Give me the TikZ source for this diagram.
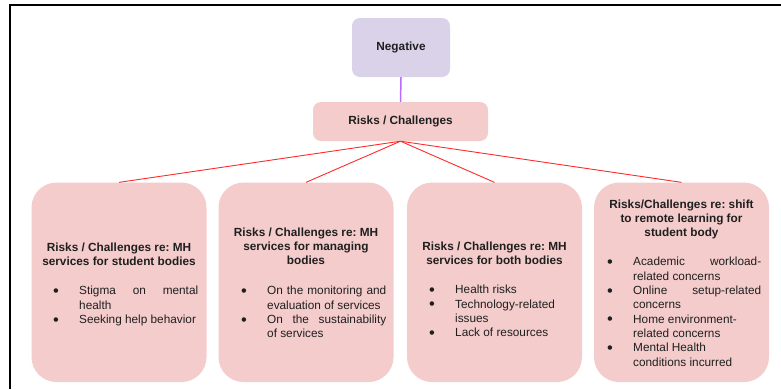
\documentclass[tikz,border=0pt]{standalone}
\usepackage{fontspec}
\setmainfont{Liberation Sans}
\usetikzlibrary{positioning}
\definecolor{lavender}{HTML}{D9D2E9}
\definecolor{blush}{HTML}{F4CCCC}
\definecolor{violetline}{HTML}{B56CFF}
\definecolor{wire}{HTML}{FF2B2B}
\definecolor{ink}{HTML}{1F1F1F}
\newcommand{\bul}{\par\hangindent=26pt\hangafter=1\noindent\makebox[26pt][l]{\raisebox{-1.6pt}[0pt][0pt]{\fontsize{16.5}{1}\selectfont\textbullet}}}
\hyphenpenalty=10000
\tolerance=10000
\frenchspacing

\begin{document}
\begin{tikzpicture}[x=1pt, y=-1pt,
    txt/.style={font=\fontsize{11.8}{14.3}\selectfont, text=ink},
    top/.style={txt, rectangle, rounded corners=8pt, draw=none, inner sep=0pt, font=\bfseries\fontsize{11.8}{14.3}\selectfont},
    leaf/.style={rectangle, rounded corners=25pt, fill=blush, draw=none, minimum width=175pt, minimum height=199.5pt},
    head/.style={txt, anchor=north, inner sep=0pt, align=center, font=\bfseries\fontsize{11.8}{14.3}\selectfont},
    pts/.style={txt, anchor=north west, inner sep=0pt, align=justify}
]
    \useasboundingbox (0,0) rectangle (781,389);

    % page frame
    \draw[line width=2pt] (9.5,389) -- (9.5,5.3) -- (781,5.3);

    % Top of the tree
    \node[top, fill=lavender, minimum width=98pt, minimum height=59pt] (neg) at (401,47.5) {Negative};
    \node[top, fill=blush, minimum width=175pt, minimum height=39pt] (risk) at (400.5,121.5) {Risks / Challenges};
    \draw[violetline, line width=1.5pt] (neg.south) -- (risk.north);

    % Branch boxes
    \node[leaf] (B1) at (119,282.3) {};
    \node[leaf] (B2) at (306,282.3) {};
    \node[leaf] (B3) at (494.5,282.3) {};
    \node[leaf] (B4) at (681.5,282.3) {};

    \foreach \b in {B1,B2,B3,B4}
        \draw[wire, line width=0.9pt] (risk.south) -- (\b.north);

    % Headings
    \node[head] (T1) at (119,242.4) {Risks / Challenges re: MH\\services for student bodies};
    \node[head] (T2) at (306,227.4) {Risks / Challenges re: MH\\services for managing\\bodies};
    \node[head] (T3) at (494.5,241.4) {Risks / Challenges re: MH\\services for both bodies};
    \node[head] (T4) at (681.5,199.4) {Risks/Challenges re: shift\\to remote learning for\\student body};

    % Bullet lists
    \node[pts, text width=145pt] (L1) at (53,280.4) {\bul Stigma on mental\linebreak health
        \bul Seeking help behavior\par};
    \node[pts, text width=145pt] (L2) at (241,280.4) {\bul On the monitoring and\linebreak evaluation of services
        \bul On the sustainability\linebreak of services\par};
    \node[pts, text width=144pt] (L3) at (429,279.4) {\bul Health risks
        \bul Technology-related\\issues
        \bul Lack of resources\par};
    \node[pts, text width=154pt] (L4) at (607,251.4) {\bul Academic workload-\linebreak related concerns
        \bul Online setup-related\linebreak concerns
        \bul Home environment-\\related concerns
        \bul Mental Health\\conditions incurred\par};

\end{tikzpicture}
\end{document}
